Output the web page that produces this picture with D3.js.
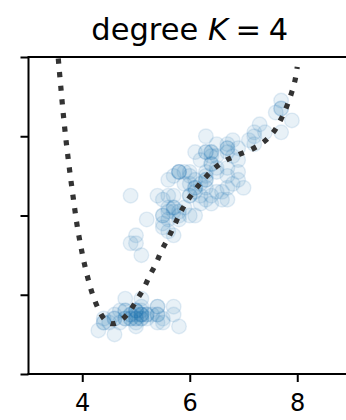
<!DOCTYPE html>
<html><head><meta charset="utf-8">
<script src="https://cdn.jsdelivr.net/npm/d3@7"></script>
<style>html,body{margin:0;padding:0;background:#fff;}svg{display:block;}</style>
</head><body>
<script>
// Iris: sepal length (x) vs petal length (y)
const sepalLength = [5.1,4.9,4.7,4.6,5.0,5.4,4.6,5.0,4.4,4.9,5.4,4.8,4.8,4.3,5.8,5.7,5.4,5.1,5.7,5.1,5.4,5.1,4.6,5.1,4.8,5.0,5.0,5.2,5.2,4.7,4.8,5.4,5.2,5.5,4.9,5.0,5.5,4.9,4.4,5.1,5.0,4.5,4.4,5.0,5.1,4.8,5.1,4.6,5.3,5.0,
7.0,6.4,6.9,5.5,6.5,5.7,6.3,4.9,6.6,5.2,5.0,5.9,6.0,6.1,5.6,6.7,5.6,5.8,6.2,5.6,5.9,6.1,6.3,6.1,6.4,6.6,6.8,6.7,6.0,5.7,5.5,5.5,5.8,6.0,5.4,6.0,6.7,6.3,5.6,5.5,5.5,6.1,5.8,5.0,5.6,5.7,5.7,6.2,5.1,5.7,
6.3,5.8,7.1,6.3,6.5,7.6,4.9,7.3,6.7,7.2,6.5,6.4,6.8,5.7,5.8,6.4,6.5,7.7,7.7,6.0,6.9,5.6,7.7,6.3,6.7,7.2,6.2,6.1,6.4,7.2,7.4,7.9,6.4,6.3,6.1,7.7,6.3,6.4,6.0,6.9,6.7,6.9,5.8,6.8,6.7,6.7,6.3,6.5,6.2,5.9];
const petalLength = [1.4,1.4,1.3,1.5,1.4,1.7,1.4,1.5,1.4,1.5,1.5,1.6,1.4,1.1,1.2,1.5,1.3,1.4,1.7,1.5,1.7,1.5,1.0,1.7,1.9,1.6,1.6,1.5,1.4,1.6,1.6,1.5,1.5,1.4,1.5,1.2,1.3,1.4,1.3,1.5,1.3,1.3,1.3,1.6,1.9,1.4,1.6,1.4,1.5,1.4,
4.7,4.5,4.9,4.0,4.6,4.5,4.7,3.3,4.6,3.9,3.5,4.2,4.0,4.7,3.6,4.4,4.5,4.1,4.5,3.9,4.8,4.0,4.9,4.7,4.3,4.4,4.8,5.0,4.5,3.5,3.8,3.7,3.9,5.1,4.5,4.5,4.7,4.4,4.1,4.0,4.4,4.6,4.0,3.3,4.2,4.2,4.2,4.3,3.0,4.1,
6.0,5.1,5.9,5.6,5.8,6.6,4.5,6.3,5.8,6.1,5.1,5.3,5.5,5.0,5.1,5.3,5.5,6.7,6.9,5.0,5.7,4.9,6.7,4.9,5.7,6.0,4.8,4.9,5.6,5.8,6.1,6.4,5.6,5.1,5.6,6.1,5.6,5.5,4.8,5.4,5.6,5.1,5.1,5.9,5.7,5.2,5.0,5.2,5.4,5.1];

// Degree-4 fit curve
const fitX = [3.50,3.555,3.60,3.648,3.703,3.766,3.834,3.908,4.001,4.057,4.12,4.19,4.29,4.42,4.55,4.67,4.86,5.00,5.14,5.25,5.37,5.47,5.60,5.71,5.82,5.95,6.10,6.27,6.45,6.67,6.92,7.15,7.38,7.56,7.69,7.80,7.89,7.96,8.00];
const fitY = [9.00,7.95,7.26,6.55,5.84,5.13,4.43,3.72,3.03,2.68,2.34,2.02,1.67,1.37,1.27,1.31,1.54,1.84,2.15,2.47,2.78,3.10,3.43,3.74,4.06,4.36,4.65,4.93,5.18,5.39,5.54,5.67,5.86,6.11,6.41,6.74,7.08,7.42,7.75];

const xTicks = [4,6,8];
const yTicks = [0,2,4,6,8];
const title = "degree ";

const W = 346, H = 420;
const m = {left: 28.5, right: 351, top: 57, bottom: 374};

const svg = d3.select("body").append("svg").attr("width", W).attr("height", H);
const x = d3.scaleLinear().domain([3,9]).range([m.left, m.right]);
const y = d3.scaleLinear().domain([0,8]).range([m.bottom, m.top]);

svg.append("defs").append("clipPath").attr("id","clip")
  .append("rect").attr("x", m.left).attr("y", m.top).attr("width", m.right-m.left).attr("height", m.bottom-m.top);

const g = svg.append("g").attr("clip-path","url(#clip)");
const pts = sepalLength.map((v,i)=>[v, petalLength[i]]);
g.selectAll("circle").data(pts).enter().append("circle")
  .attr("cx", d=>x(d[0])).attr("cy", d=>y(d[1])).attr("r", 7.3)
  .attr("fill","rgba(31,119,180,0.1)")
  .attr("stroke","rgba(31,119,180,0.12)").attr("stroke-width",1.4);

const fit = fitX.map((v,i)=>[v, fitY[i]]);
g.append("path").datum(fit)
  .attr("d", d3.line().x(d=>x(d[0])).y(d=>y(d[1])).curve(d3.curveCatmullRom))
  .attr("fill","none").attr("stroke","#333").attr("stroke-width",5.2)
  .attr("stroke-dasharray","5.2,8.5").attr("stroke-linecap","butt");

// axes
const xAxis = svg.append("g").attr("transform",`translate(0,${m.bottom})`)
  .call(d3.axisBottom(x).tickValues(xTicks).tickSize(8).tickPadding(12).tickFormat(d3.format("d")));
const yAxis = svg.append("g").attr("transform",`translate(${m.left},0)`)
  .call(d3.axisLeft(y).tickValues(yTicks).tickSize(8).tickFormat(""));
[xAxis,yAxis].forEach(a=>{
  a.select(".domain").remove();
  a.selectAll(".tick line").attr("stroke","#000").attr("stroke-width",2);
});
xAxis.selectAll("text").attr("font-family","DejaVu Sans").attr("font-size",24).attr("fill","#000");

// spines: left, top, bottom
svg.append("line").attr("x1",m.left).attr("x2",m.left).attr("y1",m.top).attr("y2",m.bottom).attr("stroke","#000").attr("stroke-width",2);
svg.append("line").attr("x1",m.left-1).attr("x2",W).attr("y1",m.top).attr("y2",m.top).attr("stroke","#000").attr("stroke-width",2);
svg.append("line").attr("x1",m.left-1).attr("x2",W).attr("y1",m.bottom).attr("y2",m.bottom).attr("stroke","#000").attr("stroke-width",2);

const t = svg.append("text").attr("x",(m.left+m.right)/2).attr("y",40)
  .attr("text-anchor","middle").attr("font-family","DejaVu Sans").attr("font-size",30.5).attr("fill","#000");
t.append("tspan").text(title);
t.append("tspan").attr("font-style","italic").text("K");
t.append("tspan").text("\u2005=\u20054");
</script>
</body></html>
